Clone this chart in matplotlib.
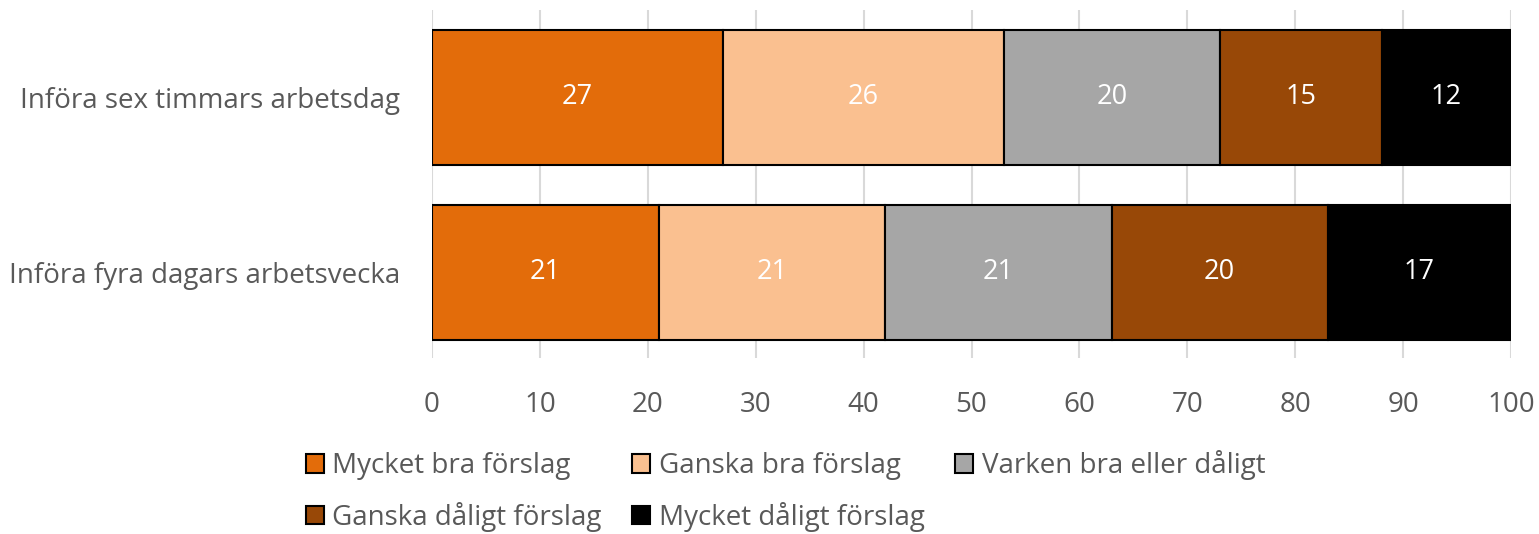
import numpy as np
from matplotlib import pyplot as plt
from matplotlib.patches import Patch

categories = ['Införa sex timmars arbetsdag', 'Införa fyra dagars arbetsvecka']
series = ['Mycket bra förslag', 'Ganska bra förslag', 'Varken bra eller dåligt',
          'Ganska dåligt förslag', 'Mycket dåligt förslag']
values = [
    [27, 21],
    [26, 21],
    [20, 21],
    [15, 20],
    [12, 17],
]
colors = ['#E36C0A', '#FAC090', '#A6A6A6', '#984807', '#000000']
label_colors = ['white', 'white', 'white', 'white', 'white']

plt.rcParams['font.family'] = ['Open Sans', 'DejaVu Sans']
txt = '#595959'

fig = plt.figure(figsize=(15.39, 5.34), dpi=100)
ax = fig.add_axes([432/1539, 1 - 358/534, (1511-432)/1539, 348/534])

ypos = np.array([1, 0])
left = np.zeros(len(categories))
handles = []
for name, vals, col, lc in zip(series, values, colors, label_colors):
    vals = np.array(vals, dtype=float)
    bars = ax.barh(ypos, vals, left=left, height=0.77, color=col,
                   edgecolor='black', linewidth=1.5, zorder=3)
    for b, v in zip(bars, vals):
        ax.text(b.get_x() + b.get_width()/2, b.get_y() + b.get_height()/2,
                f'{v:g}', ha='center', va='center', color=lc, fontsize=19.5, zorder=4)
    left += vals
    handles.append(Patch(facecolor=col, edgecolor='black', linewidth=1.5, label=name))

ax.set_xlim(0, 100)
ax.set_ylim(-0.49, 1.5)
ax.set_xticks(np.arange(0, 101, 10))
ax.set_yticks(ypos)
ax.set_yticklabels(categories)
ax.grid(axis='x', color='#D9D9D9', linewidth=1.5, zorder=0)
ax.tick_params(axis='x', length=0, pad=24, labelsize=20, labelcolor=txt)
ax.tick_params(axis='y', length=0, pad=23, labelsize=20, labelcolor=txt)
for s in ax.spines.values():
    s.set_visible(False)

order = [0, 3, 1, 4, 2]
fig.legend([handles[i] for i in order], [series[i] for i in order],
           ncol=3, loc='upper left', bbox_to_anchor=(306/1539, 1 - 450/534),
           frameon=False, fontsize=20, labelcolor=txt, handlelength=0.65,
           handleheight=0.65, handletextpad=0.3, columnspacing=1.1,
           labelspacing=0.78, borderaxespad=0, borderpad=0)

fig.savefig('out.png', dpi=100)
